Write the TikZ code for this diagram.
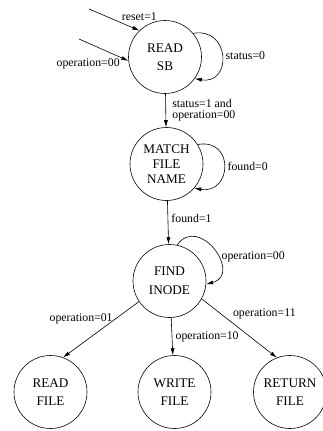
\documentclass[tikz,border=0pt]{standalone}
\usepackage{fontspec}
\setmainfont{Liberation Serif}
\usetikzlibrary{arrows.meta,positioning}
\tikzset{%
  >={Latex[width=4pt,length=7pt]},
  % Specifications for style of nodes:
       state/.style = {circle, draw=black, line width=0.6pt,
                       minimum size=73pt, inner sep=0pt, align=center,
                       font=\fontsize{13.2}{15}\selectfont},
  transition/.style = {->, line width=0.6pt},
       cond/.style = {font=\fontsize{11.8}{11}\selectfont, inner sep=3.3pt},
}

\begin{document}
\begin{tikzpicture}
  \useasboundingbox (0pt,0pt) rectangle (322pt,-431pt);
  % Specification of nodes (position, etc.)
  \node (readSB)     [state] at (165pt,-57pt)                        {READ\\[3pt]SB};
  \node (matchName)  [state, below of=readSB, node distance=107pt, xshift=1.5pt]
                                                                     {MATCH\\FILE\\NAME};
  \node (findInode)  [state, below of=matchName, node distance=117pt, xshift=3pt]
                                                                     {FIND\\[4pt]INODE};
  \node (writeFile)  [state, below of=findInode, node distance=111pt, xshift=5pt]
                                                                     {WRITE\\[3pt]FILE};
  \node (readFile)   [state, left of=writeFile, node distance=124pt]  {READ\\[3pt]FILE};
  \node (returnFile) [state, right of=writeFile, node distance=115.5pt]
                                                                     {RETURN\\[3pt]FILE};
  \coordinate (resetIn) at (89pt,-9pt);
  \coordinate (opIn)    at (79pt,-39pt);

  % Specification of transitions between states
  \draw[transition] (resetIn) -- node[cond, pos=0.9, above=4pt, xshift=5pt] {reset=1}
                                 (readSB.134);
  \draw[transition]    (opIn) -- node[cond, pos=0.85, below left, inner sep=1pt]
                                 {operation=00} (readSB.186);
  \draw[transition] (readSB.40) to[out=10, in=-10, distance=38pt]
                                 node[cond, right] {status=0} (readSB.-36);
  \draw[transition]  (readSB) -- node[cond, right, align=left, xshift=3pt]
                                 {status=1 and\\operation=00} (matchName);
  \draw[transition] (matchName.32) to[out=10, in=-10, distance=38pt]
                                 node[cond, right] {found=0} (matchName.-41);
  \draw[transition] (matchName) -- node[cond, pos=0.4, right] {found=1} (findInode);
  \draw[transition] (findInode.78) to[out=55, in=15, distance=38pt]
                                 node[cond, pos=0.6, right] {operation=00} (findInode.-5);
  \draw[transition] (findInode.214) -- node[cond, pos=0.3, left] {operation=01}
                                 (readFile.70);
  \draw[transition] (findInode) -- node[cond, right] {operation=10} (writeFile);
  \draw[transition] (findInode.-29) -- node[cond, pos=0.25, right=9pt] {operation=11}
                                 (returnFile.111);
\end{tikzpicture}
\end{document}
